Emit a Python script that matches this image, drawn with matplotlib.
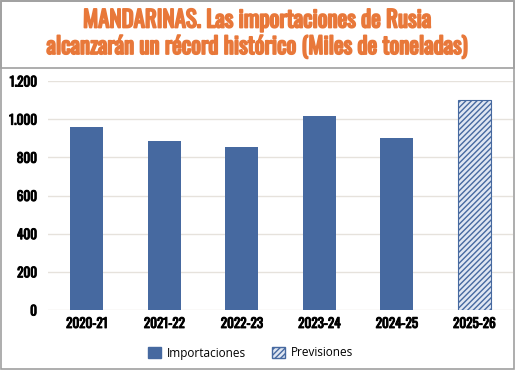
import matplotlib.pyplot as plt
import matplotlib.patheffects as pe
from matplotlib.patches import Rectangle, Patch

campanas = ['2020-21', '2021-22', '2022-23', '2023-24', '2024-25', '2025-26']
importaciones = [957, 884, 854, 1015, 900, None]
previsiones = [None, None, None, None, None, 1100]
yticks = [0, 200, 400, 600, 800, 1000, 1200]
ytick_labels = ['0', '200', '400', '600', '800', '1.000', '1.200']

azul = '#4669a0'
azul_claro = '#dfe6f2'
naranja = '#e8783a'
fuente = 'Oswald'
plt.rcParams['hatch.color'] = azul
plt.rcParams['hatch.linewidth'] = 1.0

fig = plt.figure(figsize=(5.15, 3.7), dpi=100)
ax = fig.add_axes([48 / 515, 1 - 310 / 370, 465 / 515, 229 / 370])

x = range(len(campanas))
ax.bar([i for i in x if importaciones[i] is not None],
       [v for v in importaciones if v is not None],
       width=0.42, color=azul, zorder=3)
ax.bar([i for i in x if previsiones[i] is not None],
       [v for v in previsiones if v is not None],
       width=0.42, color=azul_claro, edgecolor=azul, hatch='//////',
       linewidth=0.8, zorder=3)

ax.set_xlim(-0.5, 5.5)
ax.set_ylim(0, 1200)
ax.set_yticks(yticks)
ax.set_yticklabels(ytick_labels)
ax.set_xticks(list(x))
ax.set_xticklabels(campanas)
ax.grid(axis='y', color='#e6e2dc', linewidth=1, zorder=0)
for s in ax.spines.values():
    s.set_visible(False)
ax.tick_params(axis='y', length=0, pad=8)
ax.tick_params(axis='x', length=0, pad=5)
# Oswald solo viene en peso normal: se engrosa con un trazo
negrita = [pe.withStroke(linewidth=0.7, foreground='black')]
for lab in ax.get_xticklabels() + ax.get_yticklabels():
    lab.set_fontfamily(fuente)
    lab.set_fontsize(9.5)
    lab.set_path_effects(negrita)

# marco y titulo
fig.patches.append(Rectangle((1 / 515, 1 / 370), 513 / 515, 368 / 370,
                             transform=fig.transFigure, fill=False,
                             edgecolor='#a0a0a0', linewidth=1.2))
fig.patches.append(Rectangle((1 / 515, 1 - 68 / 370), 513 / 515, 67 / 370,
                             transform=fig.transFigure, fill=False,
                             edgecolor='#a0a0a0', linewidth=1.2))
titulo_fx = [pe.withStroke(linewidth=1.3, foreground=naranja)]
fig.text(0.5, 1 - 20 / 370, 'MANDARINAS. Las importaciones de Rusia',
         ha='center', va='center', color=naranja, fontsize=16.5,
         fontfamily=fuente, path_effects=titulo_fx)
fig.text(0.5, 1 - 47 / 370,
         'alcanzarán un récord histórico (Miles de toneladas)',
         ha='center', va='center', color=naranja, fontsize=16.5,
         fontfamily=fuente, path_effects=titulo_fx)

handles = [Patch(facecolor=azul, edgecolor=azul, label='Importaciones'),
           Patch(facecolor=azul_claro, edgecolor=azul, hatch='//////',
                 label='Previsiones')]
fig.legend(handles=handles, loc='center', bbox_to_anchor=(0.487, 1 - 353 / 370),
           ncol=2, frameon=False, prop={'family': 'Open Sans', 'size': 8.5},
           handlelength=1.1, handleheight=1.1, columnspacing=2.2,
           handletextpad=0.5)

fig.savefig('out.png', dpi=100)
